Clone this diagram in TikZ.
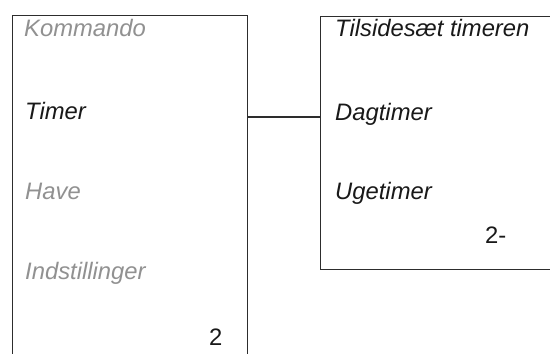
\documentclass[tikz,border=0pt]{standalone}
\usepackage{fontspec}
\setmainfont{Liberation Sans}
\usepackage{xcolor}
\usetikzlibrary{positioning}
\definecolor{menuline}{RGB}{45,45,45}
\definecolor{menuink}{RGB}{25,25,25}
\definecolor{menugray}{RGB}{145,145,145}

\begin{document}
\begin{tikzpicture}[x=1pt, y=-1pt,
    menubox/.style={rectangle, draw=menuline, line width=1.2pt,
        anchor=north west, inner sep=0pt},
    entry/.style={anchor=base west, inner sep=0pt, text=menuink,
        font=\fontsize{23.8}{28}\selectfont\itshape},
    inactive/.style={entry, text=menugray},
    pagenum/.style={anchor=base west, inner sep=0pt, text=menuink,
        font=\fontsize{23.8}{28}\selectfont},
    link/.style={draw=menuline, line width=1.2pt}]
\useasboundingbox (0,0) rectangle (550,354);
\clip (0,0) rectangle (550,354);
\fill[white] (0,0) rectangle (550,354);

% main menu and sub menu
\node[menubox, minimum width=235pt, minimum height=360pt] (menu) at (12,15) {};
\node[menubox, minimum width=250pt, minimum height=253pt] (sub)  at (320,16) {};

\node[inactive] (kommando) at (24,36.5)  {Kommando};
\node[entry]    (timer)    at (25,119)   {Timer};
\node[inactive] (have)     at (25,199)   {Have};
\node[inactive] (indst)    at (25,279)   {Indstillinger};
\node[pagenum]  (pmenu)    at (209,345.5) {2};

\node[entry]    (tilside)  at (335,36.5) {Tilsidesæt timeren};
\node[entry]    (dag)      at (335,120)  {Dagtimer};
\node[entry]    (uge)      at (335,199.5) {Ugetimer};
\node[pagenum]  (psub)     at (485,243.5) {2-};

\coordinate (linky) at (0,117);
\draw[link] (menu.east |- linky) -- (sub.west |- linky);
\end{tikzpicture}
\end{document}
